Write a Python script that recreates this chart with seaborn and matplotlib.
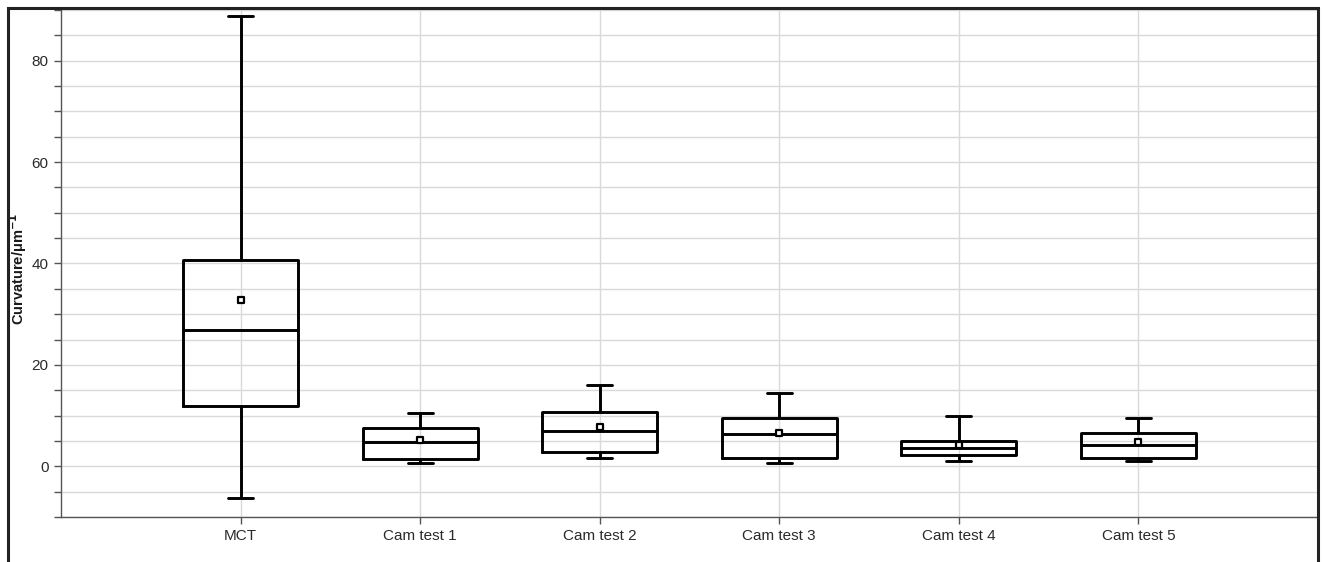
import numpy as np
import pandas as pd
import matplotlib
matplotlib.use("Agg")
import matplotlib.pyplot as plt
from matplotlib.patches import Rectangle
from matplotlib.ticker import MultipleLocator
import seaborn as sns

# Summary statistics per measurement group
categories = ["MCT", "Cam test 1", "Cam test 2", "Cam test 3", "Cam test 4", "Cam test 5"]
whisker_low = [-6.2, 0.7, 1.6, 0.6, 1.05, 1.0]
q1 = [11.8, 1.45, 2.9, 1.55, 2.15, 1.7]
median = [26.9, 4.8, 7.0, 6.3, 3.55, 4.2]
q3 = [40.7, 7.6, 10.7, 9.6, 4.9, 6.5]
whisker_high = [88.8, 10.45, 16.1, 14.4, 10.0, 9.5]
mean = [32.8, 5.15, 7.75, 6.6, 4.2, 4.7]

y_major_ticks = [0, 20, 40, 60, 80]

# Five-number summaries as long-form data; with whis=(0, 100) the
# whiskers span min..max and linear quartiles land on q1/median/q3.
rows = []
for i, cat in enumerate(categories):
    for v in (whisker_low[i], q1[i], median[i], q3[i], whisker_high[i]):
        rows.append({"group": cat, "value": v})
df = pd.DataFrame(rows)

sns.set_theme(style="white")
plt.rcParams["font.family"] = ["Liberation Sans", "DejaVu Sans"]

fig = plt.figure(figsize=(13.22, 5.62), dpi=100)
ax = fig.add_axes([61 / 1322, 1 - 517 / 562, (1318 - 61) / 1322, (517 - 10) / 562])

sns.boxplot(
    data=df, x="group", y="value", order=categories,
    whis=(0, 100), width=0.64, fill=False, color="black", linecolor="black",
    linewidth=2.1, capwidths=0.14, showfliers=False, ax=ax,
)

# Mean markers
ax.scatter(np.arange(len(categories)), mean, marker="s", s=22,
           facecolor="white", edgecolor="black", linewidth=1.6, zorder=6)

ax.set_xlim(-1, 6)
ax.set_ylim(-10, 90)
ax.set_yticks(y_major_ticks)
ax.yaxis.set_minor_locator(MultipleLocator(5))
ax.set_xticks(range(len(categories)))
ax.set_xticklabels(categories)

grid_color = "#d9d9d9"
ax.grid(True, which="both", axis="y", color=grid_color, linewidth=1.0)
ax.grid(True, which="major", axis="x", color=grid_color, linewidth=1.0)
ax.set_axisbelow(True)

for side in ("top", "right"):
    ax.spines[side].set_visible(False)
for side in ("left", "bottom"):
    ax.spines[side].set_color("#555555")
    ax.spines[side].set_linewidth(1.0)

ax.tick_params(axis="both", which="both", direction="out", length=5,
               width=1.0, color="#555555", labelsize=11, labelcolor="#2a2a2a",
               left=True, bottom=True)
ax.tick_params(axis="x", which="minor", bottom=False)
ax.tick_params(axis="x", pad=4)
ax.tick_params(axis="y", pad=4)

ax.set_xlabel("")
ax.set_ylabel("Curvature/μm$^{\\mathbf{-1}}$", fontsize=10.5, fontweight="bold",
              color="#1a1a1a")
ax.yaxis.set_label_coords((29 - 61) / 1257, 0.49)

# Outer frame around the chart
fig.patches.append(Rectangle((8 / 1322, -0.1), (1318 - 8) / 1322, 1.1 - 8 / 562,
                             transform=fig.transFigure, fill=False,
                             edgecolor="#222222", linewidth=2.2, zorder=10))

fig.savefig("out.png", dpi=100, facecolor="white")
